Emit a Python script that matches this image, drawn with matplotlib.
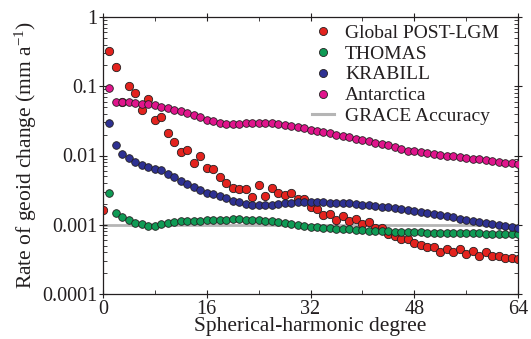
import numpy as np
import matplotlib
matplotlib.use("Agg")
import matplotlib.pyplot as plt
from matplotlib.lines import Line2D
from matplotlib.legend_handler import HandlerLine2D
from matplotlib.ticker import FixedLocator, FixedFormatter, LogLocator, NullFormatter

# ---------------- data ----------------
deg_red = list(range(0, 65))
deg_other = list(range(1, 65))

global_post_lgm = [0.00165, 0.325, 0.19, 0.06, 0.101, 0.081, 0.046, 0.065, 0.033, 0.036,
                   0.021, 0.0156, 0.0114, 0.0122, 0.0077, 0.010, 0.0065, 0.0064, 0.00497, 0.0040,
                   0.00336, 0.00329, 0.00329, 0.00249, 0.00371, 0.0026, 0.00336, 0.0029, 0.00272, 0.0029,
                   0.00236, 0.00236, 0.00178, 0.00169, 0.00138, 0.00142, 0.00118, 0.00132, 0.00114, 0.00123,
                   0.00104, 0.0011, 0.00091, 0.00091, 0.00073, 0.00069, 0.00062, 0.00062, 0.00055, 0.00051,
                   0.00047, 0.00047, 0.00041, 0.00044, 0.0004, 0.00044, 0.00038, 0.00042, 0.000356, 0.0004,
                   0.000356, 0.000356, 0.000336, 0.00033, 0.00032]

thomas = [0.00284, 0.00147, 0.00128, 0.00118, 0.00107, 0.00101, 0.00097, 0.00097, 0.00102, 0.00107,
          0.0011, 0.00112, 0.00114, 0.00114, 0.00115, 0.00116, 0.00117, 0.00118, 0.00119, 0.0012,
          0.0012, 0.00119, 0.00118, 0.00116, 0.00114, 0.00112, 0.0011, 0.00107, 0.00104, 0.001,
          0.00097, 0.00094, 0.00092, 0.00091, 0.0009, 0.00088, 0.00087, 0.00086, 0.00084, 0.00083,
          0.00082, 0.00081, 0.0008, 0.0008, 0.00079, 0.00079, 0.00078, 0.00078, 0.00078, 0.00077,
          0.00077, 0.00077, 0.00076, 0.00076, 0.00076, 0.00075, 0.00075, 0.00075, 0.00074, 0.00074,
          0.00074, 0.00073, 0.00073, 0.00073]

krabill = [0.0294, 0.014, 0.0106, 0.0093, 0.008, 0.0072, 0.0068, 0.0064, 0.0061, 0.0054,
           0.0049, 0.0043, 0.0039, 0.0035, 0.0032, 0.0029, 0.0028, 0.0026, 0.00244, 0.00223,
           0.0021, 0.002, 0.00195, 0.00195, 0.00195, 0.00195, 0.002, 0.00204, 0.00206, 0.0021,
           0.0021, 0.0021, 0.0021, 0.0021, 0.00208, 0.00207, 0.00205, 0.00204, 0.002, 0.00195,
           0.00191, 0.00187, 0.00182, 0.00178, 0.00173, 0.0017, 0.00165, 0.00157, 0.00152, 0.00147,
           0.00142, 0.00137, 0.00132, 0.00128, 0.00123, 0.00119, 0.00115, 0.00111, 0.00107, 0.00103,
           0.001, 0.00096, 0.00093, 0.0009]

antarctica = [0.0945, 0.0593, 0.0593, 0.0588, 0.0574, 0.056, 0.0549, 0.053, 0.05, 0.0487,
              0.046, 0.0438, 0.0411, 0.038, 0.0359, 0.0329, 0.0311, 0.0298, 0.0288, 0.0288,
              0.0288, 0.0294, 0.0294, 0.0298, 0.0298, 0.0294, 0.0288, 0.0279, 0.0266, 0.0257,
              0.0249, 0.0236, 0.0226, 0.0218, 0.0208, 0.02, 0.0192, 0.0184, 0.0175, 0.0168,
              0.0161, 0.0153, 0.0147, 0.014, 0.0133, 0.0126, 0.0118, 0.0115, 0.0112, 0.0109,
              0.0106, 0.0103, 0.01, 0.00977, 0.0095, 0.00927, 0.00902, 0.00878, 0.00855, 0.00832,
              0.0081, 0.00789, 0.00768, 0.00748]

grace_accuracy = 0.001

series_names = ["Global POST-LGM", "THOMAS", "KRABILL", "Antarctica", "GRACE Accuracy"]
x_ticks = [0, 16, 32, 48, 64]
x_minor = [8, 24, 40, 56]
y_ticks = [1, 0.1, 0.01, 0.001, 0.0001]
y_ticklabels = ["1", "0.1", "0.01", "0.001", "0.0001"]

# ---------------- style ----------------
plt.rcParams['font.family'] = ['Liberation Serif', 'DejaVu Serif']
plt.rcParams['mathtext.fontset'] = 'custom'
plt.rcParams['mathtext.rm'] = 'Liberation Serif'
plt.rcParams['mathtext.it'] = 'Liberation Serif:italic'
txt = '#231f20'
edge = '#231f20'
c_red = '#e3231e'
c_green = '#0f9b55'
c_blue = '#2e3192'
c_mag = '#e0148c'
c_gray = '#b5b5b5'

fig = plt.figure(figsize=(5.31, 3.39), dpi=100)
ax = fig.add_axes([103/531, 45/339, 415/531, 277/339])

ax.axhline(grace_accuracy, color=c_gray, lw=2.0, zorder=1)
ax.plot(deg_red, global_post_lgm, ls='none', marker='o', ms=6.0, mfc=c_red, mec=edge, mew=0.6, zorder=2)
ax.plot(deg_other, thomas, ls='none', marker='o', ms=5.5, mfc=c_green, mec=edge, mew=0.6, zorder=3)
ax.plot(deg_other, krabill, ls='none', marker='o', ms=5.5, mfc=c_blue, mec=edge, mew=0.6, zorder=4)
ax.plot(deg_other, antarctica, ls='none', marker='o', ms=5.5, mfc=c_mag, mec=edge, mew=0.6, zorder=5)

ax.set_yscale('log')
ax.set_xlim(0, 64)
ax.set_ylim(1e-4, 1)

ax.xaxis.set_major_locator(FixedLocator(x_ticks))
ax.xaxis.set_minor_locator(FixedLocator(x_minor))
ax.yaxis.set_major_locator(FixedLocator(y_ticks))
ax.yaxis.set_major_formatter(FixedFormatter(y_ticklabels))
ax.yaxis.set_minor_locator(LogLocator(base=10, subs=np.arange(2, 10)))
ax.yaxis.set_minor_formatter(NullFormatter())

ax.tick_params(which='major', direction='inout', length=6, width=0.8, colors=txt,
               labelsize=14.5, top=True, right=True, pad=1)
ax.tick_params(which='minor', direction='in', length=3, width=0.6, colors=txt, top=True, right=True)
for s in ax.spines.values():
    s.set_linewidth(0.9)
    s.set_color(txt)

ax.set_xlabel('Spherical-harmonic degree', fontsize=15.5, color=txt, labelpad=-1)
ax.set_ylabel('Rate of geoid change (mm a$^{\\mathregular{-1}}$)', fontsize=15.5, color=txt, labelpad=2)


class RightMarker(HandlerLine2D):
    def get_xdata(self, legend, xdescent, ydescent, width, height, fontsize):
        xd = np.array([-xdescent, -xdescent + width])
        xm = np.array([-xdescent + width])
        return xd, xm


handles = [
    Line2D([], [], ls='none', marker='o', ms=5.8, mfc=c_red, mec=edge, mew=0.6),
    Line2D([], [], ls='none', marker='o', ms=5.8, mfc=c_green, mec=edge, mew=0.6),
    Line2D([], [], ls='none', marker='o', ms=5.8, mfc=c_blue, mec=edge, mew=0.6),
    Line2D([], [], ls='none', marker='o', ms=5.8, mfc=c_mag, mec=edge, mew=0.6),
    Line2D([], [], color=c_gray, lw=2.2),
]
hm = {h: RightMarker() for h in handles[:4]}
leg = ax.legend(handles, series_names, handler_map=hm, loc='upper left',
                bbox_to_anchor=(312/531, 1 - 24/339), bbox_transform=fig.transFigure,
                frameon=False, fontsize=14, handlelength=1.15, handletextpad=0.55,
                labelspacing=0.17, borderpad=0, borderaxespad=0)
for t in leg.get_texts():
    t.set_color(txt)

fig.savefig('out.png', dpi=100)
